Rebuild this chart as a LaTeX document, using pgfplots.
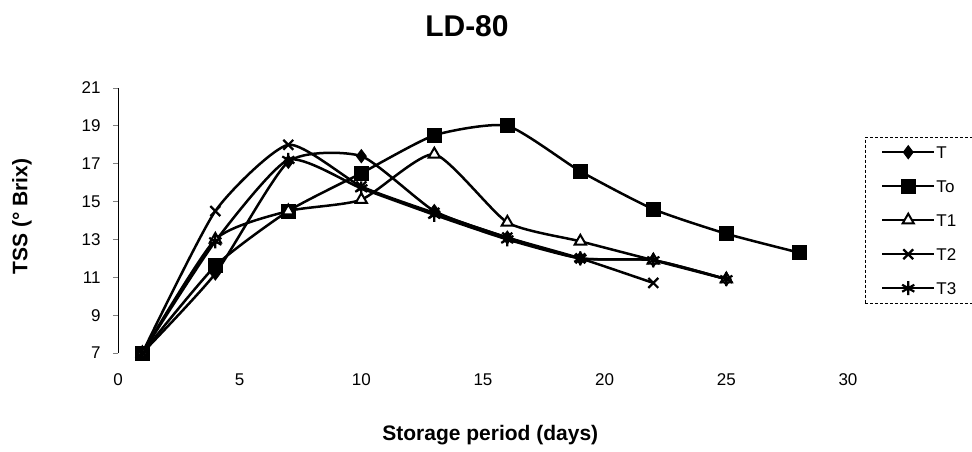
\documentclass[border=0pt]{standalone}
\usepackage{pgfplots}
\pgfplotsset{compat=1.18}
\usepackage{fontspec}
\setmainfont{Liberation Sans}
\usetikzlibrary{plotmarks}
\begin{document}
\begin{tikzpicture}
\useasboundingbox (-118pt,-98pt) rectangle (854pt,353pt);
\begin{axis}[
  at={(0pt,0pt)}, anchor=south west,
  scale only axis, width=730pt, height=265pt,
  xmin=0, xmax=30, ymin=7, ymax=21,
  xtick={0,5,...,30}, ytick={7,9,...,21},
  axis lines*=left,
  x axis line style={draw=none},
  xtick style={draw=none},
  y axis line style={line width=0.8pt},
  ytick style={line width=0.8pt},
  tick align=outside, major tick length=5pt,
  /pgf/number format/assume math mode=true,
  ticklabel style={font=\fontsize{17}{20}\selectfont},
  xticklabel style={yshift=-12pt},
  yticklabel style={xshift=-9pt},
  clip=false,
  title={LD-80},
  title style={font=\fontsize{30}{34}\selectfont\bfseries, at={(0.478,1.211)}, anchor=center},
  xlabel={Storage period (days)},
  xlabel style={font=\fontsize{21}{24}\selectfont\bfseries, at={(0.51,-0.309)}, anchor=center},
  ylabel={TSS (° Brix)},
  ylabel style={font=\fontsize{21}{24}\selectfont\bfseries, at={(-0.1315,0.515)}, anchor=center},
  legend style={at={(1.023,0.815)}, anchor=north west, draw=black, densely dashed, thin,
    font=\fontsize{17}{20}\selectfont, row sep=20pt,
    nodes={inner sep=1pt, text height=12pt, text depth=0pt, solid},
    inner xsep=16pt, inner ysep=8pt},
  legend cell align=left,
  legend image code/.code={\draw[mark repeat=2,mark phase=2,solid] plot coordinates {(0pt,0pt) (26pt,0pt) (52pt,0pt)};},
]
\addplot[black, line width=2.5pt, smooth, tension=0.35, mark=diamond*, mark size=6.5pt, mark options={solid, fill=black, line width=1pt}] coordinates {
 (1,7)(4,11.2)(7,17.1)(10,17.4)(13,14.5)(16,13.1)(19,12.0)(22,11.9)(25,10.9)};
\addlegendentry{T}
\addplot[black, line width=2.5pt, smooth, tension=0.35, mark=square*, mark size=7pt, mark options={solid, fill=black, line width=1pt}] coordinates {
 (1,7)(4,11.6)(7,14.5)(10,16.5)(13,18.5)(16,19.0)(19,16.6)(22,14.6)(25,13.3)(28,12.3)};
\addlegendentry{To}
\addplot[black, line width=2.5pt, smooth, tension=0.35, mark=triangle*, mark size=6.5pt, mark options={solid, fill=white, line width=2pt}] coordinates {
 (1,7)(4,13.0)(7,14.5)(10,15.1)(13,17.5)(16,13.9)(19,12.9)(22,11.9)(25,10.9)};
\addlegendentry{T1}
\addplot[black, line width=2.5pt, smooth, tension=0.35, mark=x, mark size=7pt, mark options={solid, line width=2.2pt}] coordinates {
 (1,7)(4,14.5)(7,18.0)(10,15.8)(13,14.4)(16,13.1)(19,12.0)(22,10.7)};
\addlegendentry{T2}
\addplot[black, line width=2.5pt, smooth, tension=0.35, mark=asterisk, mark size=7pt, mark options={solid, line width=2.2pt}] coordinates {
 (1,7)(4,12.9)(7,17.2)(10,15.7)(13,14.3)(16,13.0)(19,12.0)(22,11.9)(25,10.9)};
\addlegendentry{T3}
\end{axis}
\end{tikzpicture}
\end{document}
